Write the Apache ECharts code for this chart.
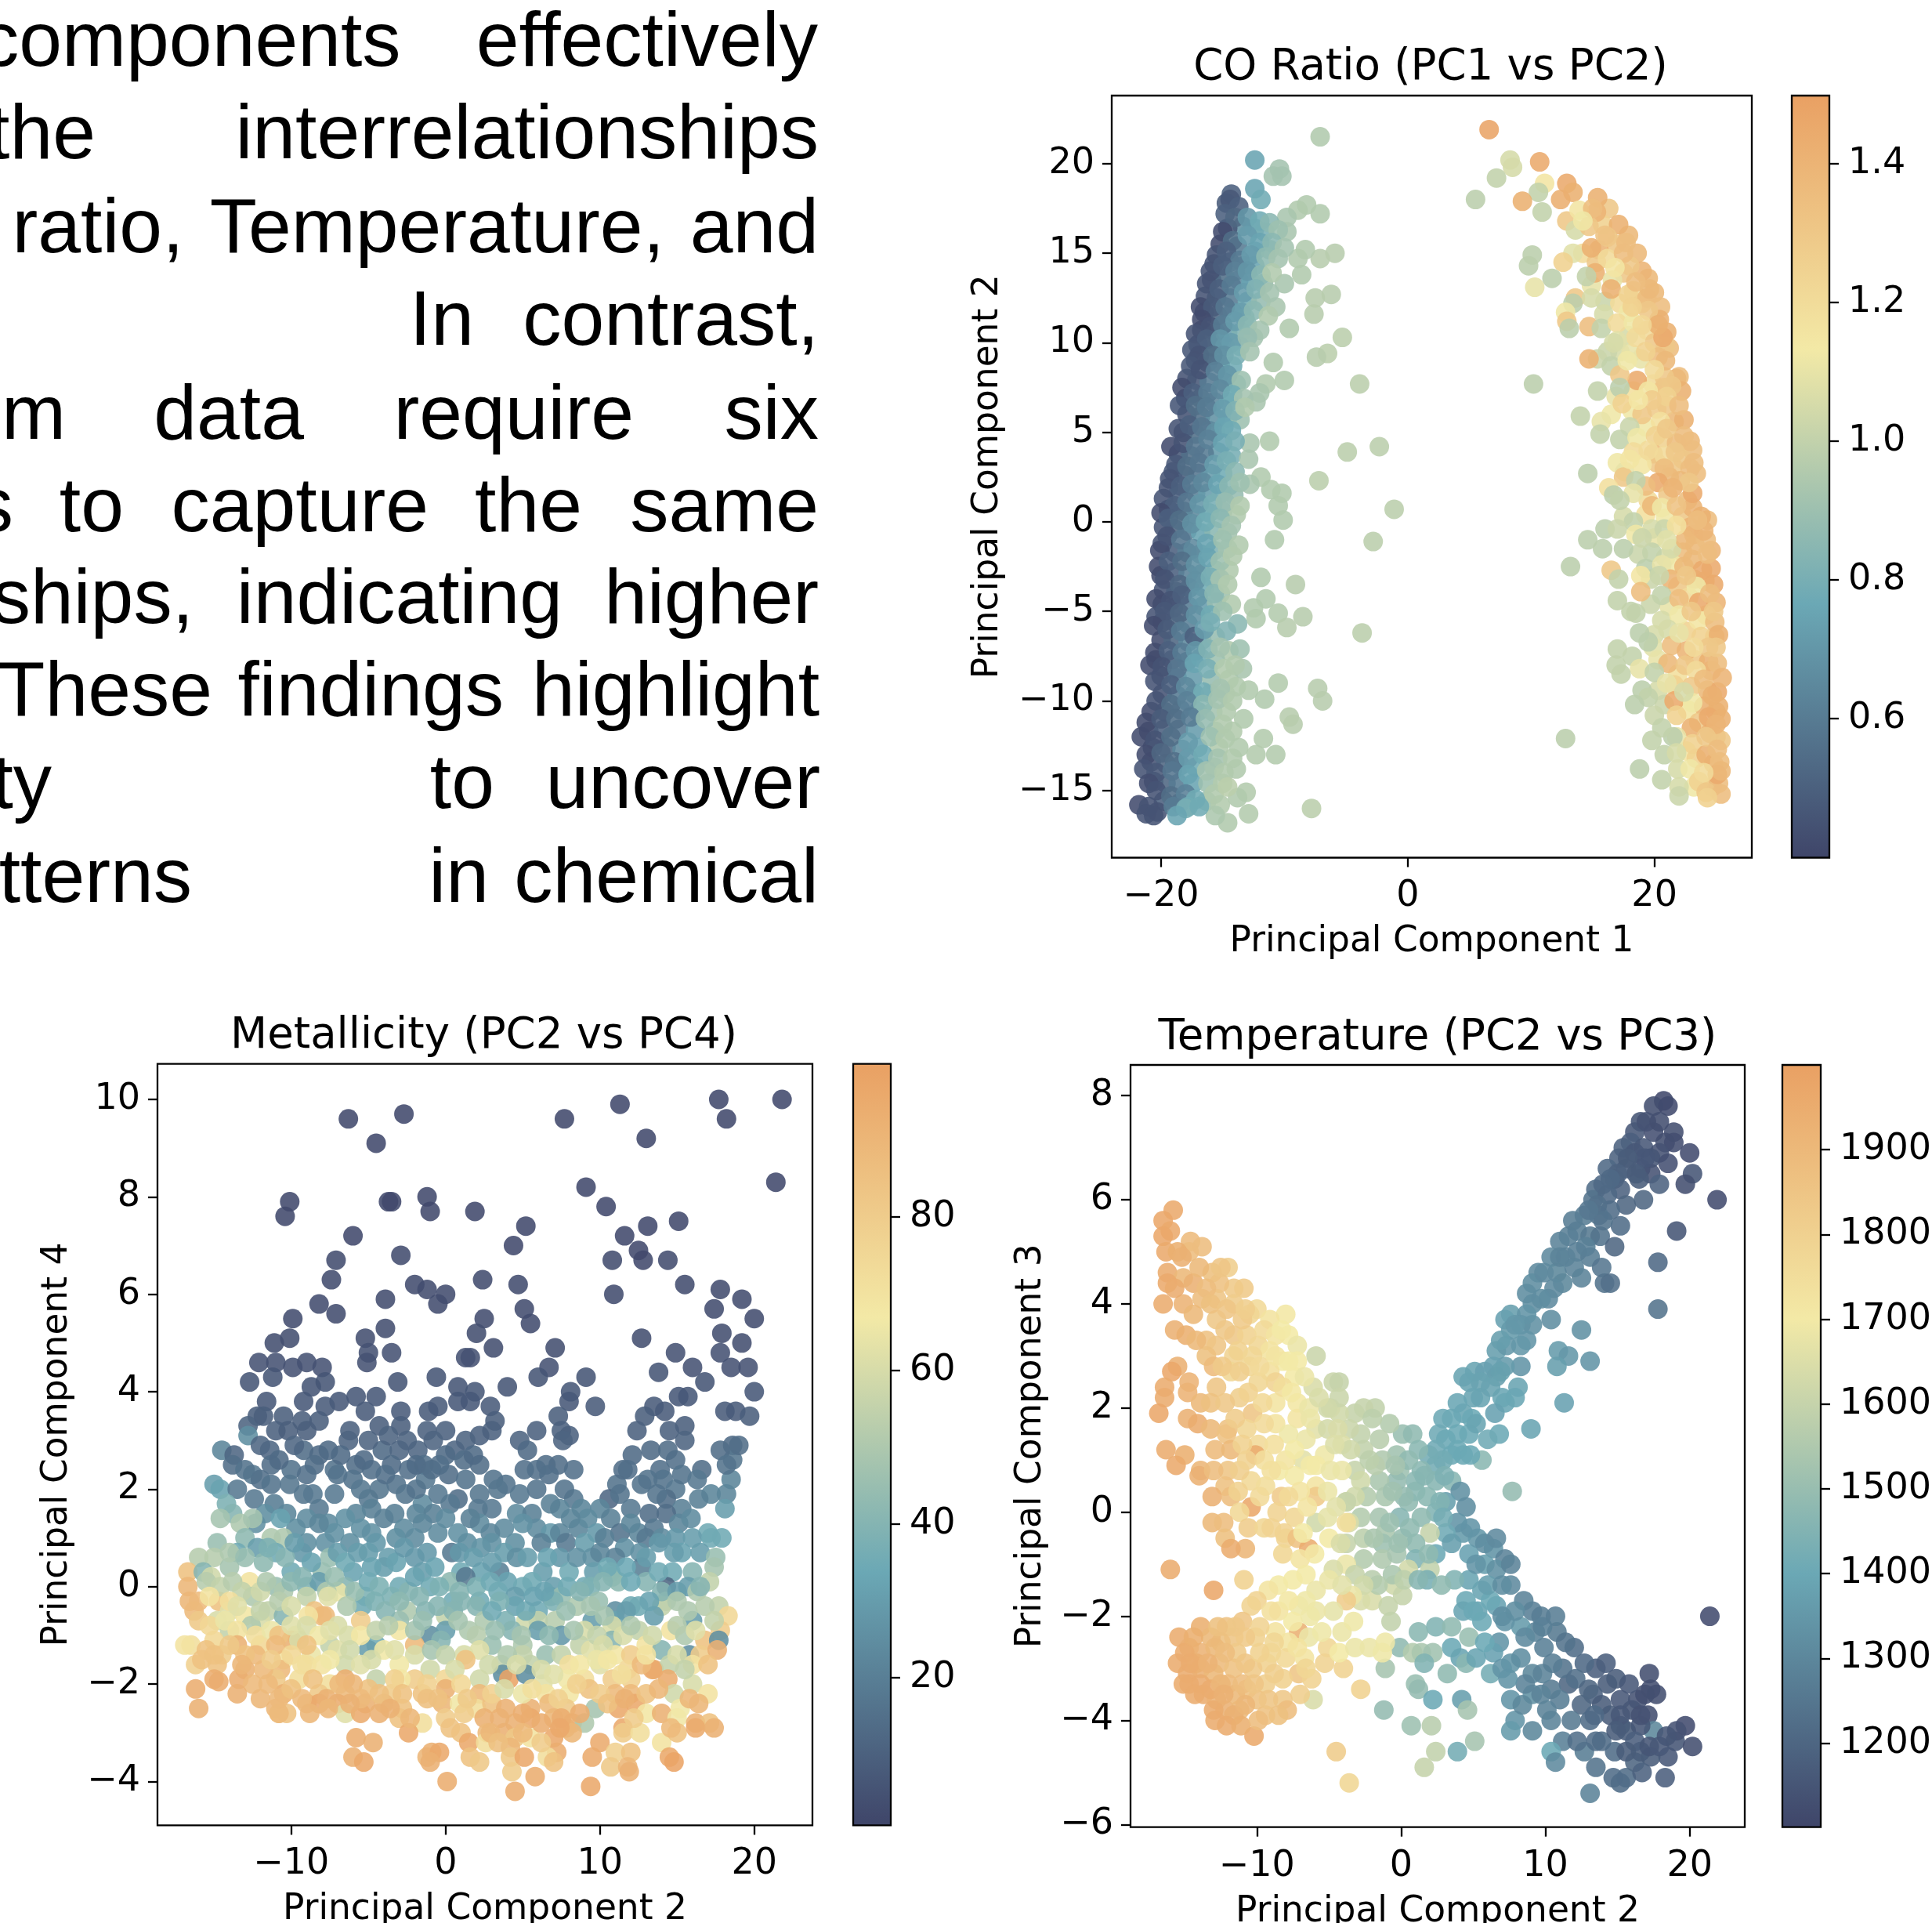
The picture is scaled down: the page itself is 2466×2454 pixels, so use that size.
<!DOCTYPE html>
<html><head><meta charset="utf-8">
<style>html,body{margin:0;padding:0;background:#fff}#c{width:2466px;height:2454px}</style>
<script src="https://cdn.jsdelivr.net/npm/echarts@6/dist/echarts.min.js"></script>
</head><body><div id="c"></div>
<script>
const paletteColors=['#3f4569','#6ba8b5','#f3e9a6','#e9a063'];
const titles=['CO Ratio (PC1 vs PC2)','Metallicity (PC2 vs PC4)','Temperature (PC2 vs PC3)'];
const xNames=['Principal Component 1','Principal Component 2','Principal Component 2'];
const yNames=['Principal Component 2','Principal Component 4','Principal Component 3'];
const xTicks=[[-20,0,20],[-10,0,10,20],[-10,0,10,20]];
const yTicks=[[-15,-10,-5,0,5,10,15,20],[-4,-2,0,2,4,6,8,10],[-6,-4,-2,0,2,4,6,8]];
const barTicks=[[0.6,0.8,1.0,1.2,1.4],[20,40,60,80],[1200,1300,1400,1500,1600,1700,1800,1900]];
const barDigits=[1,0,0];
const xRanges=[[-24,27.9],[-18.67,23.77],[-18.76,23.82]];
const yRanges=[[-18.75,23.8],[-4.9,10.73],[-6.05,8.59]];
const barRanges=[[0.399,1.498],[0.74,99.9],[1101,2000]];
const paragraphLines=[
[['components',508.6],['effectively',1041]],
[['the',119],['interrelationships',1042]],
[['ratio,',231.5],['Temperature,',845],['and',1042]],
[['In',602],['contrast,',1042]],
[['m',81],['data',385],['require',806],['six',1042]],
[['s',14],['to',155],['capture',544],['the',740],['same',1042]],
[['ships,',244],['indicating',715],['higher',1042]],
[['These',268],['findings',640],['highlight',1043]],
[['ty',63],['to',628],['uncover',1044]],
[['tterns',242],['in',621],['chemical',1042]]];
const paragraphTops=[7,125,245.5,363.5,483.5,601,718.5,836.5,954.5,1074.5];

const coLeftOutliers=[[-7.1,21.5,.95],[-12.4,20.2,.75],[-10.4,19.7,.92],[-10.9,19.3,.92],[-10.2,19.3,.92],[-12.4,18.6,.75],[-11.9,18,.78],[-14.3,18.3,.5],[-7.1,17.2,.95],[-8.2,17.7,.95],[-8.9,17.4,.95],[-9.8,17,.93],[-9.8,16.2,.93],[-5.9,15,.97],[-7.1,14.7,.97],[-8.3,15.2,.95],[-8.9,14.7,.95],[-8.6,13.8,.95],[-10,13.3,.93],[-6.2,12.7,.97],[-7.5,12.5,.97],[-7.6,11.6,.97],[-10.7,12,.93],[-9.6,10.8,.95],[-5.3,10.3,.98],[-6.5,9.4,.98],[-7.4,9.2,.97],[-10.9,8.9,.95],[-10,7.9,.95],[-3.9,7.7,.98],[-11.5,7.7,.95],[-12,7.2,.93],[-12.3,6.7,.93],[-12.8,4.4,.93],[-11.2,4.5,.95],[-4.9,3.9,.98],[-2.3,4.2,.98],[-12.9,3.5,.93],[-7.2,2.3,.98],[-11.9,2.5,.95],[-12.8,2.1,.93],[-10.2,1.6,.95],[-11.1,1.8,.95],[-10.5,.9,.95],[-1.1,.7,.98],[-10.1,.1,.95],[-2.8,-1.1,.98],[-10.8,-1,.95],[-11.9,-3.1,.95],[-9.1,-3.5,.97],[-11.5,-4.3,.95],[-12.5,-4.8,.95],[-10.5,-5.1,.96],[-8.5,-5.3,.97],[-12.3,-5.4,.95],[-9.8,-5.9,.97],[-13.8,-5.7,.85],[-3.7,-6.2,.98],[-14.7,-6.1,.82],[-13.6,-7.1,.9],[-13.4,-8.2,.93],[-10.5,-9,.96],[-7.3,-9.3,.97],[-12.9,-9.4,.95],[-6.9,-10,.97],[-11.6,-9.9,.95],[-9.6,-10.9,.97],[-9.3,-11.3,.97],[-11.7,-12.1,.96],[-12.3,-13,.96],[-10.7,-13,.96],[-13.9,-13.8,.95],[-13.1,-15.1,.96],[-13.8,-15.4,.95],[-12.9,-16.3,.96],[-7.8,-16,.98],[-14.6,-16.8,.95],[-15.6,-16.4,.94]];
const coLeftFill=[[-14.7,17.8,.48],[-13.4,16.5,.68],[-12.4,16.4,.75],[-11.6,16.2,.8],[-14.6,16.4,.47],[-15.2,15.5,.42],[-13.8,15.4,.6],[-12.4,15.1,.75],[-11.2,15.2,.88],[-15.7,14.4,.45],[-14.4,14.5,.58],[-13.3,14.3,.68],[-12.4,14.3,.75],[-15.9,13.5,.43],[-14.8,13.6,.55],[-13.7,13.5,.65],[-12.7,13.4,.75],[-11.7,13.3,.88],[-16.4,12.6,.45],[-15.5,12.5,.47],[-14.4,12.5,.6],[-13,12.3,.78],[-11.9,12.3,.88],[-16.5,11.7,.43],[-15.4,11.5,.52],[-14.2,11.7,.7],[-13.2,11.4,.82],[-16.7,10.7,.42],[-15.6,10.6,.55],[-14.6,10.6,.72],[-13.5,10.6,.82],[-12.5,10.3,.92],[-17,9.9,.47],[-15.9,9.8,.55],[-14.8,9.8,.7],[-13.6,9.8,.82],[-17.2,9,.45],[-16.2,8.9,.52],[-15.2,8.8,.68],[-14.2,8.7,.78],[-17.9,8,.45],[-17.1,7.9,.47],[-16.1,7.8,.6],[-14.9,7.8,.68],[-13.9,7.7,.82],[-18,6.9,.47],[-16.8,6.9,.55],[-15.7,6.7,.65],[-14.5,6.7,.78],[-17.9,6,.45],[-16.8,5.9,.55],[-15.6,5.8,.68],[-14.6,5.8,.75],[-13.6,5.7,.9],[-18.2,5,.42],[-17.2,4.9,.55],[-16.1,5.1,.65],[-15.4,3.9,.72],[-18.6,3.8,.47],[-17.6,3.7,.55],[-16.5,3.8,.6],[-14.3,3.7,.8],[-19,2.8,.47],[-18.1,2.6,.5],[-17,2.7,.58],[-16,2.7,.72],[-15,2.7,.78],[-19.4,1.9,.45],[-18.6,1.6,.5],[-17.2,1.6,.62],[-16.2,1.6,.72],[-15.1,1.6,.8],[-14.1,1.5,.88],[-19.4,.7,.47],[-18.2,.6,.55],[-17.2,.4,.65],[-16.1,.5,.78],[-15,.6,.88],[-13.9,.4,.95],[-19.8,-.3,.45],[-18.9,-.4,.52],[-17.9,-.5,.6],[-16.8,-.6,.75],[-15.7,-.5,.85],[-14.6,-.6,.92],[-19.9,-1.2,.45],[-18.9,-1.7,.5],[-17.9,-1.7,.62],[-16.8,-1.8,.72],[-15.7,-1.6,.82],[-14.6,-1.5,.92],[-20,-3,.42],[-18.9,-2.8,.5],[-17.8,-2.9,.62],[-16.7,-2.9,.72],[-15.6,-2.7,.85],[-14.5,-2.7,.95],[-19.8,-3.8,.45],[-18.8,-3.9,.5],[-17.7,-3.7,.62],[-16.5,-3.7,.78],[-15.2,-4,.9],[-19.9,-4.6,.45],[-19,-4.8,.48],[-17.8,-4.7,.6],[-16.6,-4.7,.72],[-15.5,-4.5,.88],[-14.3,-4.6,.95],[-19.9,-5.6,.45],[-18.9,-5.6,.52],[-17.8,-5.7,.62],[-20,-6.6,.42],[-19,-6.6,.52],[-17.8,-6.7,.65],[-16.7,-6.6,.78],[-15.6,-6.4,.88],[-14.5,-7.2,.95],[-20.4,-7.7,.42],[-19.1,-7.7,.5],[-17.9,-7.8,.62],[-16.8,-7.6,.78],[-15.6,-7.7,.9],[-20,-8.6,.45],[-18.7,-8.7,.6],[-17.4,-8.7,.72],[-15.9,-8.8,.88],[-14.5,-8.8,.95],[-13.9,-9.2,.95],[-19.9,-9.6,.45],[-18.7,-9.7,.6],[-17.3,-9.6,.72],[-16,-9.6,.88],[-14.8,-9.6,.95],[-20.8,-10.6,.42],[-19.7,-10.6,.5],[-18.4,-10.5,.6],[-17,-10.6,.75],[-15.8,-10.6,.92],[-14.7,-10.6,.95],[-21,-11.7,.42],[-19.8,-11.6,.5],[-18.6,-11.6,.58],[-17.2,-11.6,.72],[-15.6,-11.7,.92],[-14.2,-11.7,.96],[-20.7,-12.6,.45],[-19.6,-12.6,.52],[-18.3,-12.7,.65],[-17,-12.6,.75],[-15.3,-12.6,.95],[-13.7,-12.6,.95],[-20.8,-13.4,.45],[-19.6,-13.5,.52],[-18.4,-13.6,.65],[-17.2,-13.7,.78],[-15.7,-13.7,.95],[-20.6,-14.5,.45],[-19.6,-14.6,.52],[-18.6,-14.6,.6],[-17.4,-14.6,.75],[-16.2,-14.6,.9],[-15,-14.6,.96],[-19.8,-15.6,.5],[-18.5,-15.7,.6],[-16.3,-15.6,.9],[-15.2,-15.8,.96]];
const coLeftBand=[[-14.4,18,.47],[-13.7,17.6,.5],[-14.8,17.2,.5],[-14,17,.52],[-13,17,.7],[-12,16.8,.78],[-11.2,16.7,.85],[-10.5,16.3,.9],[-15,16.2,.42],[-14.2,15.7,.55],[-13,16,.72],[-12,15.6,.75],[-11,15.6,.85],[-10,15.3,.92],[-15.5,14.9,.45],[-14.7,15.1,.5],[-13.6,14.6,.6],[-12.7,14.9,.72],[-11.5,14.8,.86],[-10.5,14.7,.92],[-16,14,.45],[-15,14.3,.5],[-14,14,.62],[-13,14,.7],[-11.9,13.8,.85],[-11,13.9,.95],[-16.3,13.3,.45],[-15.3,13,.5],[-14.3,13.2,.6],[-13.3,12.8,.72],[-12.3,13,.82],[-11.2,12.8,.92],[-16.8,12,.42],[-15.8,12,.48],[-14.8,12,.58],[-13.5,11.7,.72],[-12.5,11.8,.85],[-11.3,11.5,.95],[-16.7,11.3,.42],[-16,10.9,.45],[-15,11,.6],[-14,11.2,.72],[-13,11,.85],[-12,10.7,.92],[-17.2,10.5,.45],[-16.3,10.2,.5],[-15.2,10.2,.7],[-14.3,10,.72],[-13,10.3,.88],[-17.5,9.6,.47],[-16.9,9.3,.45],[-15.8,9.3,.55],[-14.9,9.3,.68],[-13.9,9.3,.8],[-12.8,9.5,.92],[-17.6,8.7,.47],[-16.8,8.5,.45],[-15.6,8.4,.62],[-14.6,8.2,.7],[-13.5,7.9,.9],[-18.3,7.5,.42],[-17.4,7.2,.5],[-16.2,7.2,.6],[-15.2,7.4,.65],[-14.2,7.1,.78],[-13.3,6.9,.92],[-18.5,6.5,.46],[-17.2,6.5,.55],[-16.3,6.4,.6],[-15,6.3,.72],[-14,6.2,.82],[-13.2,6.4,.95],[-18.6,5.2,.45],[-17.7,5.4,.5],[-16.7,5.3,.58],[-15.6,5,.68],[-14.9,5.3,.75],[-14.3,5.1,.78],[-19.2,4.2,.42],[-18.2,4.4,.45],[-17.2,4.2,.58],[-16.2,4.6,.62],[-15,4.4,.75],[-14,4.5,.8],[-18.8,3.2,.47],[-17.9,3.1,.55],[-16.9,3.3,.58],[-15.7,3.2,.72],[-14.7,3.4,.8],[-14,2.8,.85],[-19.3,2.4,.45],[-18.4,2,.5],[-17.5,2.1,.6],[-16.6,2.2,.65],[-15.4,2.1,.75],[-14.5,2,.85],[-13.6,2.2,.9],[-19.8,1.3,.45],[-18.9,.9,.5],[-17.9,1.1,.58],[-16.9,1,.7],[-15.8,1,.8],[-14.8,1.1,.88],[-13.6,.9,.95],[-20,.5,.42],[-19.4,.2,.5],[-18.5,.1,.55],[-17.5,-.1,.68],[-16.4,0,.78],[-15.2,.2,.85],[-14.3,-.2,.92],[-20.1,-1.6,.42],[-19.5,-.8,.45],[-18.4,-1,.58],[-17.4,-1.5,.65],[-16.3,-1.2,.75],[-15,-1,.9],[-13.7,-1.3,.95],[-20.2,-2.5,.42],[-19.4,-2.2,.5],[-18.3,-2.2,.55],[-17.2,-2.4,.68],[-16.2,-2,.75],[-15.2,-2.2,.9],[-14.2,-1.9,.95],[-19.7,-3.2,.45],[-18.5,-3.5,.52],[-17.2,-3.3,.68],[-16,-3.1,.8],[-15.2,-3.2,.92],[-20.4,-4.3,.42],[-19.2,-4.4,.45],[-18.3,-4.1,.5],[-17,-4.2,.7],[-15.7,-4,.85],[-14.6,-3.5,.95],[-20.4,-5.3,.45],[-19.7,-5,.47],[-18.5,-5.1,.52],[-17.2,-5.2,.68],[-16,-5.2,.78],[-15,-5,.9],[-20.6,-5.8,.42],[-19.5,-6,.48],[-18.4,-6.1,.6],[-17.3,-6.4,.5],[-16.5,-6,.72],[-16,-5.6,.8],[-20.5,-7.3,.42],[-19.4,-7.2,.5],[-18.3,-7.3,.6],[-17.2,-7.2,.7],[-16.2,-7.1,.82],[-15.2,-7,.92],[-20.9,-8,.42],[-19.9,-8.1,.45],[-18.7,-8.2,.58],[-17.3,-7.9,.75],[-16.2,-8.2,.8],[-14.9,-8.2,.95],[-14,-8,.95],[-20.5,-8.9,.45],[-19.2,-9.1,.5],[-18,-9.2,.65],[-16.6,-9.5,.78],[-15.2,-9.3,.92],[-20.4,-10,.45],[-19.2,-10.2,.55],[-17.9,-10,.62],[-16.6,-10.2,.85],[-15.4,-9.9,.92],[-14.2,-10,.95],[-21.2,-11.2,.42],[-20,-11,.48],[-18.8,-11,.55],[-17.6,-10.9,.6],[-16.4,-11,.88],[-15,-11.3,.95],[-13.3,-11,.95],[-21.6,-12,.42],[-20.5,-12.2,.45],[-19.2,-12,.55],[-17.8,-12.3,.72],[-16,-12,.9],[-14.8,-12.1,.95],[-21.2,-13,.42],[-20,-12.9,.52],[-18.9,-13.4,.55],[-17.8,-13.2,.72],[-16.6,-13,.78],[-15.4,-13.2,.92],[-14.2,-13.2,.95],[-21.4,-13.8,.45],[-20.4,-14,.47],[-19.1,-13.9,.58],[-17.8,-14.1,.75],[-16.3,-13.9,.92],[-14.9,-14,.95],[-21,-14.6,.43],[-20.4,-15,.45],[-19.2,-15.3,.55],[-18,-15.2,.62],[-17.2,-15.5,.78],[-15.7,-15.2,.95],[-14.6,-14.8,.98],[-21.8,-15.8,.42],[-21,-15.9,.45],[-20.3,-16.2,.45],[-21.2,-16.3,.45],[-20.6,-16.4,.45],[-19,-15.9,.6],[-17.8,-15.9,.78],[-18,-16,.8],[-18.7,-16.4,.75],[-16.9,-15.9,.78]];
const coRightFill=[[16.3,17.5,1.3],[15.8,16.6,1.25],[17.9,16,1.38],[16.9,15.5,1.3],[15.5,15.2,1.4],[18.6,15,1.38],[14.2,15,1.2],[15.3,14.5,1.3],[17.5,13.9,1.3],[19.5,13.6,1.38],[14.9,13.2,1.1],[18.3,12.9,1.2],[20,12.8,1.38],[16,12.3,1.02],[17.2,12.2,1.2],[19,12.2,1.3],[20.5,12,1.35],[15.9,11.6,1.05],[17.9,11.7,1.12],[19.4,10.7,1.2],[21,10.6,1.42],[17.9,10.4,1.05],[20,10,1.3],[21.2,9.7,1.35],[17.2,9.5,1.05],[18.1,9.4,1.1],[16.2,9.5,1.02],[20.9,9.8,1.3],[16.9,7,1.1],[18.3,7.3,1.18],[19.9,7.7,1.2],[20.8,7.5,1.32],[22,8.1,1.35],[18.2,6.2,1.12],[20.2,6.3,1.28],[21.6,5.6,1.38],[19.3,5.3,1.12],[20.7,4.7,1.25],[22.9,4.5,1.38],[19.9,3.8,1.35],[17,3.3,1.12],[20.2,3.3,1.3],[21.5,3.1,1.3],[23.4,2.7,1.35],[21.2,2.5,1.38],[19.5,1.2,1.2],[22.7,1.2,1.35],[20.9,.2,1.12],[19.3,.4,1.18],[22.3,.3,1.3],[23.1,.8,1.4],[24.3,.1,1.35],[17.5,.3,1.05],[20,-.9,1.1],[23.2,-.7,1.38],[24.6,-1.6,1.4],[22.3,-1.7,1.35],[18.7,-1.8,1.02],[20.9,-2,1.05],[23.1,-2.1,1.38],[24.6,-2.6,1.45],[21.5,-2.4,1.12],[19.7,-3.2,1.02],[21.9,-3.6,1.3],[23.2,-3.2,1.35],[25,-4.5,1.4],[21.2,-4.7,1.1],[19.7,-4.6,1.02],[22.8,-4.2,1.2],[24.1,-3.3,1.4],[24.2,-5.2,1.2],[20,-6.3,1.05],[22.6,-6.1,1.25],[24.9,-6.4,1.3],[23.3,-7.7,1.3],[18.2,-7.5,1],[24.4,-7.8,1.42],[19.9,-7,1.08],[21.9,-8.5,1.18],[24.6,-8.3,1.4],[20.3,-9.4,1.05],[24.3,-9.4,1.38],[22.7,-10.5,1.15],[24,-10.3,1.42],[25,-10.6,1.4],[20.8,-10.2,1.02],[23.6,-11.2,1.3],[24.5,-11.8,1.4],[22.6,-12.8,1.15],[25,-12,1.35],[20.8,-13,1],[23.4,-13.2,1.25],[24.8,-13.5,1.4],[21.9,-13.8,1.05],[24.7,-14.8,1.35],[23.2,-14.8,1.12],[25.2,-14.6,1.35]];
const coRightBand=[[6.6,21.9,1.48],[8.3,20.2,1.05],[8.5,19.8,1.05],[10.7,20.1,1.45],[7.2,19.2,1],[11.1,18.9,1.15],[10.6,18.4,1],[5.5,18,.98],[9.3,17.9,1.42],[10.9,17.3,1],[12.9,18.9,1.45],[13.4,18.4,1.42],[12.4,18,1.43],[15.4,18.1,1.42],[15.3,17.3,1.4],[12.9,16.8,1.3],[13.9,17.4,1.15],[13.6,16.3,1.05],[14.7,16.5,1.3],[17.1,16.6,1.42],[10.1,14.9,.98],[9.8,14.3,.98],[13.4,15,1.08],[12.6,14.5,1.25],[11.7,13.6,.98],[10.3,13.1,1.1],[14.9,15.3,1.42],[16.2,15.9,1.3],[17.7,15.6,1.35],[16.2,14.7,1.2],[15.2,13.9,1.42],[19,14,1.4],[18,14.3,1.3],[16.6,13.5,1.1],[14.5,13.7,1],[16.5,13,1.42],[17.9,12.7,1.25],[13.6,12.5,1.3],[14.9,12.5,1.05],[13.4,12.2,.98],[19.4,12.5,1.35],[12.8,11.7,1.12],[12.9,11.2,1.3],[13.1,10.8,.98],[14.7,10.9,1.35],[15.7,10.8,1],[17,11.1,1.2],[18.3,11.1,1.12],[20.4,11.3,1.42],[19.5,11.8,1.3],[20.7,10.3,1.45],[18.5,10.3,1.2],[17,10.1,1.08],[15.4,9.1,1.02],[14.7,9.1,1.42],[18.9,9.1,1.1],[20.3,9.2,1.35],[16.5,8.7,1],[18.6,7.9,1.45],[21.8,8,1.38],[20.8,8.1,1.3],[10.2,7.7,.98],[17.2,8.2,1.3],[15.4,7.3,1],[17.2,7.5,.98],[19.5,7.3,1.15],[22.2,7.3,1.42],[21,6.5,1.3],[14,5.9,1],[16.5,6,1.12],[17.4,6.6,1.25],[19,6,1.3],[22.4,5.7,1.42],[15.7,5.6,1.1],[20.5,5.6,1.18],[15.6,4.9,1],[18,5.3,1.02],[17.2,4.6,1],[18.6,4.7,1.12],[20.1,4.8,1.25],[21.8,4.4,1.35],[23.1,4,1.35],[18.3,3.9,1.2],[20.8,3.7,1.2],[22.3,3.5,1.3],[14.6,2.7,.98],[17.6,2.8,1.1],[19,3.2,1.15],[20.8,3,1.35],[22.9,3,1.35],[17.5,2.5,1.3],[20.3,2.2,1.45],[22.1,2.3,1.38],[16.3,1.9,1.18],[19.3,2,1.35],[18.5,2.3,1],[18.3,1.6,1.1],[16.7,1.5,.98],[21.1,1.5,1.3],[23.1,1.6,1.45],[19.8,.9,1.38],[20.6,.8,1.12],[21.8,.9,1.32],[23.8,.3,1.42],[22.9,-.3,1.4],[18.3,0,1],[19.8,-.4,1.05],[16,-.4,.98],[17,-.4,1.02],[18.5,-.7,1.12],[20.8,-.4,1.02],[14.6,-1,.98],[15.8,-1.5,.98],[17.5,-1.5,.98],[21.4,-1.5,1.05],[23.3,-1.3,1.38],[24.2,-1,1.35],[19.8,-1.7,1],[13.2,-2.5,.98],[16.5,-2.7,1.3],[19.3,-2.6,.98],[17.1,-3.2,1],[20.6,-2.4,1.1],[22.4,-2.5,1.38],[23.9,-2.7,1.45],[18.9,-3,1.15],[21.3,-3.2,1.4],[24.8,-3.5,1.45],[23.4,-3.6,1.12],[18.9,-3.9,1.35],[20.6,-4.1,1],[17,-4.4,1],[22,-4.3,1.35],[23.6,-4.5,1.45],[18.1,-5,1],[18.5,-5.1,1],[20.6,-5.5,1.05],[22,-5.2,1.12],[23.6,-5.5,1.15],[24.9,-5.6,1.35],[18.8,-6.2,.98],[19.5,-6.7,.98],[21.1,-6,1.05],[23.8,-6.4,1.25],[25.2,-6.3,1.42],[17,-7.1,1],[21.4,-6.9,1.35],[22.6,-7.2,1.4],[24.4,-7,1.3],[16.9,-8,1],[18.8,-8.2,1.1],[20.3,-7.7,1.1],[21.1,-7.9,1.38],[22.5,-8,1.3],[25.1,-7.9,1.35],[17.3,-8.5,1],[20,-8.4,1],[23.4,-8.3,1.2],[21.6,-9.1,1.25],[19,-9.4,.98],[23,-9.2,1.3],[25.1,-9.5,1.45],[19.5,-9.8,1],[21.6,-10,1.45],[23.1,-10.1,1.12],[18.4,-10.2,.98],[25.2,-10.3,1.42],[20,-10.8,1.02],[21.8,-10.8,1.25],[24.4,-10.9,1.45],[25.4,-11,1.42],[23,-11.5,1.42],[21.8,-12,1.1],[19.8,-12.2,1],[21.5,-12,.98],[12.8,-12.1,.98],[23.1,-12.4,1.25],[25.4,-12.2,1.3],[24.2,-13,1.42],[21.8,-12.9,1.05],[25.3,-13.4,1.35],[18.8,-13.8,.98],[22.9,-13.8,1.12],[25.1,-14.1,1.45],[20.6,-14.4,1],[23.6,-14.5,1.25],[22,-14.8,1.05],[22,-15.3,1.02],[24.2,-15.1,1.3],[25.4,-15.2,1.35],[24.3,-15.4,1.25],[19.6,13,1.38],[18.5,13.4,1.35],[20.3,11,1.42],[20.9,9,1.38],[21.4,7.6,1.3],[21,7,1.25],[20,8.5,1.2],[22,6.5,1.35],[22.4,4.8,1.35],[21.7,3.9,1.3],[22.8,2.2,1.3],[23.2,3.3,1.35],[21.5,1.9,1.4],[24,-.5,1.4],[24.3,-1.8,1.35],[23.5,.1,1.35],[22.5,-1,1.38],[21.8,-.2,1.18],[22.6,-3,1.3],[24.5,-4,1.35],[23,-5,1.3],[24.8,-5,1.3],[25,-7,1.3],[24,-8.8,1.35],[25.5,-8.7,1.4],[24.7,-9.7,1.42],[25,-11.3,1.4],[24.2,-12,1.3],[25.1,-12.7,1.35],[25.4,-13.9,1.38],[24,-14,1.2],[21,-9,1.1],[22.4,-9.5,1.05],[20.6,-11.5,1],[23.2,-7,1.2],[22,-6.2,1.1],[20.4,-3,1.02],[21,-1,1.08],[19,-.9,1.02],[18,3.5,1.15],[17.2,1.2,1],[19.5,4,1.2],[21,5.2,1.3],[19.8,6.8,1.28],[18.7,6.8,1.15],[17.8,9,1.12],[19.3,9.5,1.25],[16.7,10,1.05],[18.2,12,1.25],[19,11,1.22],[16,16,1.32],[17.5,15,1.35],[16.8,14.2,1.15],[15,17.5,1.35],[14.2,16.8,1.12]];

const metUpper=[[-6.3,9.6,2],[-2.7,9.7,2],[-4.5,9.1,2],[7.7,9.6,2],[11.3,9.9,2],[17.7,10,2],[18.2,9.6,2],[21.8,10,2],[13,9.2,2],[21.4,8.3,2],[9.1,8.2,2],[10.4,7.8,2],[-10.1,7.9,2],[-10.4,7.6,2],[-3.7,7.9,2],[-3.5,7.9,2],[-1.2,8,2],[-1,7.7,2],[1.9,7.7,2],[5.2,7.4,2],[13.1,7.4,2],[15.1,7.5,2],[11.6,7.2,2],[-6,7.2,2],[4.4,7,2],[12.5,6.9,2],[12.8,6.7,2],[-7.1,6.7,3],[-2.9,6.8,3],[10.8,6.7,3],[14.4,6.7,3],[-7.4,6.3,3],[2.4,6.3,3],[4.7,6.2,3],[15.5,6.2,3],[17.8,6.1,3],[-2,6.2,3],[-1.2,6.1,3],[0,6,3],[-3.9,5.9,3],[-8.2,5.8,3],[-.5,5.8,3],[10.9,6,3],[19.2,5.9,3],[5.1,5.7,3],[-7.1,5.6,3],[-9.9,5.5,3],[2.5,5.5,3],[5.5,5.4,3],[17.4,5.7,3],[20,5.5,3],[-3.9,5.3,4],[-5.2,5.1,4],[2,5.2,4],[17.9,5.2,4],[-10.1,5.1,4],[-11.1,5,4],[12.7,5.1,4],[7.1,4.9,4],[3.1,4.9,4],[19.2,5,4],[-5,4.8,5],[-3.5,4.8,5],[14.9,4.8,5],[17.8,4.8,5],[1.3,4.7,5],[1.6,4.7,5],[-5.1,4.6,5],[-12.1,4.6,5],[-11,4.6,5],[-9,4.6,5],[-8,4.5,5],[6.7,4.5,5],[16,4.5,5],[18.5,4.5,5],[19.6,4.5,5],[-9.9,4.5,5],[13.8,4.4,6],[6,4.3,6],[9.1,4.3,6],[16.8,4.2,6],[-11.2,4.3,6],[-12.7,4.2,6],[-3.1,4.2,6],[-.6,4.3,6],[-7.8,4.2,6],[-8.7,4.1,6],[.8,4.1,6],[4,4.1,6],[20,4,7],[1.9,4,7],[8.1,4,7],[15.7,3.9,7],[15.1,3.9,7],[-11.6,3.8,7],[-5.8,3.9,7],[-6.9,3.8,7],[-4.5,3.9,7],[-9.2,3.8,7],[8,3.8,7],[.8,3.8,7],[1.6,3.8,7],[-7.8,3.7,8],[9.7,3.7,8],[2.9,3.7,8],[-2.9,3.6,8],[-1.1,3.6,8],[-.5,3.7,8],[13.5,3.7,8],[18.1,3.6,8],[18.8,3.6,8],[14.2,3.6,8],[-5.2,3.6,8],[-10.5,3.5,9],[-12.2,3.5,9],[7.3,3.5,9],[19.7,3.5,9],[12.9,3.5,9],[-8.2,3.4,9],[-2.9,3.3,9],[3.2,3.4,9],[15.5,3.3,9],[-9.3,3.4,9],[-4.3,3.3,9],[-12.8,3.3,11],[-1.2,3.2,10],[3,3.2,10],[-11,3.2,10],[5.9,3.2,10],[7.5,3.2,10],[12.4,3.2,10],[14.5,3.2,10],[15.5,3,11],[-6.2,3.2,10],[0,3.2,10],[2.2,3.1,10],[8,3.1,10],[4.8,3,11],[-12.8,3.1,25],[-6.3,3,11],[7.6,3,11],[18.6,2.9,13],[-14.5,2.8,22],[-13.7,2.7,12],[-9.2,2.8,14],[-11.4,2.8,12],[-7.6,2.8,13],[-4.1,2.8,13],[-3,2.8,12],[-1.8,2.8,12],[5.3,2.8,13],[13.3,2.8,13],[.6,2.8,12],[0,2.7,13],[12.1,2.7,13],[-8.2,2.7,13],[-13.8,2.5,14],[-5.8,2.5,14],[1.2,2.6,14],[2.2,2.5,14],[6.5,2.5,14],[7.3,2.5,14],[14.9,2.6,15],[18.6,2.6,17],[16.6,2.4,14],[-11.3,2.5,14],[-4.8,2.4,15],[-1.4,2.5,15],[5.1,2.4,15],[8.3,2.4,15],[11.8,2.4,15],[13.9,2.4,15],[-7.2,2.4,16],[-10,2.4,16],[-.4,2.5,15],[-2.4,2.4,15],[5.9,2.4,15],[-12.5,2.3,18],[6.7,2.3,15],[3.1,2.2,16],[18.5,2.2,22],[3.9,2.1,16],[14.1,2.2,16],[-6,2.2,16],[-3.2,2.1,16],[-10.1,2.1,17],[-1.3,2.2,18],[-15,2.1,30],[-14.6,2,32],[-13.5,2,18],[13.1,2.2,16],[11.1,2.1,16],[5.9,2,16],[14.9,2,18],[-7.2,1.9,18],[2.2,1.9,17],[4.8,1.9,18],[17.2,1.9,22],[10.6,1.8,12],[11.3,1.9,16],[18.2,1.9,22],[8.3,1.8,18],[16.4,1.8,20],[-9.2,1.9,17],[-5,1.8,18],[.8,1.8,14],[14.3,1.8,14],[-11.1,1.7,19],[-12.4,1.8,18],[-14.2,1.7,38],[-1.5,1.7,24],[18.1,1.6,30],[15.3,1.6,20],[-8.2,1.6,18],[2.1,1.6,18],[4.6,1.5,24],[7.4,1.6,22],[12,1.6,18],[-4.8,1.6,20],[-5.8,1.5,22],[13.2,1.5,14],[14.3,1.5,14]];
const metUpperFill=[[-11.8,3.5,9],[-10.2,3.2,9],[-9.8,2.9,12],[-12,2.9,12],[-10.8,2.6,13],[-9,3.2,9],[-8.5,2.5,14],[-6.8,2.7,13],[-5.3,2.6,13],[-5,3,11],[-3.7,3.1,11],[-3.5,2.5,13],[-2.5,3,11],[-1.9,2.5,13],[-.8,3,11],[-.9,2.4,14],[1.3,3,11],[1.8,2.7,13],[.2,2.3,14],[-12,2.2,15],[-11.3,2.1,16],[-9,2.3,15],[-8.6,1.9,18],[-7,2.3,16],[-5.5,2,18],[-4.3,2,17],[-3.9,2.3,15],[-2.6,1.9,17],[-1.9,2,16],[-.5,1.9,18],[.3,1.7,18],[1.3,2.2,16],[3,1.6,18],[3.4,2,17],[5.6,1.5,20],[6.8,1.7,20],[7.7,2,16],[8.8,1.6,22],[10,1.6,22],[11.5,2.4,14],[12.7,2.1,16],[13.7,1.9,16],[14.4,2.8,14],[15.3,2.3,16],[16.3,2.2,18],[17.8,2.8,14],[18.2,2.5,16],[19,2.9,14],[-13,2.4,16],[-12.3,1.3,26],[-13.8,1.5,40],[-11.7,1.5,25],[-10.3,1.5,22],[-9.7,1.2,25],[-9,1.4,24],[-7.6,1.3,24],[-7.2,1.1,26],[-5.5,1.2,26],[-4.8,1.1,26],[-3.3,1.5,20],[-1.9,1.5,22],[-.8,1.5,20],[.8,1.1,26],[2.2,1.3,24],[3.8,1.2,24],[5.9,1.2,24],[6.8,1.1,28],[8.6,1.2,22],[9.2,1.4,24],[10.7,1.4,20],[12.5,1.1,22],[13.5,1.2,18],[15.1,1.3,22],[15.9,1.4,24]];
const metMiddle=[[-14.6,1.4,48],[-13.3,1.3,50],[-12.5,1.4,48],[-10.7,1.4,32],[-8.2,1.3,22],[-6.5,1.4,26],[-4,1.4,20],[-2.7,1.2,24],[-1.5,1.3,22],[0,1.4,24],[1.6,1.4,20],[2.9,1.1,22],[5,1.3,26],[7.4,1.1,22],[8.1,1.4,22],[9.8,1.1,28],[11.3,1.1,16],[12,1.3,22],[13,1,18],[14,1,24],[17,1.1,35],[-14.8,.9,45],[-13,1,42],[-11.3,1,50],[-10.5,1,50],[-9,.9,25],[-7.8,.9,26],[-6.2,.9,25],[-4.5,.9,28],[-3.2,1,25],[-2,1,24],[-.5,1.1,24],[1.4,.9,25],[3,.9,26],[4.5,.9,25],[6.2,.9,20],[7.8,.9,18],[9,.9,30],[10.3,1,20],[11.6,.8,26],[13.8,.9,28],[14.9,1,28],[16,1,30],[17.2,1,35],[17.9,1,35],[-16,.6,52],[-15,.6,52],[-13.5,.7,35],[-12.2,.8,30],[-11,.7,35],[-9.3,.7,28],[-7.5,.6,45],[-5,.7,30],[-3.7,.6,30],[-2,.6,28],[.4,.7,18],[2.3,.8,27],[3.8,.7,30],[4.6,.6,25],[7.4,.6,28],[9.5,.6,26],[11,.6,20],[12.6,.7,26],[15.3,.7,32],[16.5,.7,30],[17.5,.6,45],[-16.7,.3,85],[-15.7,.3,40],[-14,.4,48],[-10,.3,35],[-8,.3,45],[-6,.3,32],[-4,.4,30],[-1.5,.3,30],[1,.3,35],[2.3,.3,32],[3.5,.3,20],[6.3,.3,30],[8,.3,35],[9.6,.3,30],[10.7,.3,42],[12.7,.4,20],[14.7,.3,35],[16,.3,40],[17.4,.4,48],[-16.7,0,90],[-15.2,.2,58],[-12.7,.1,70],[-11,0,45],[-9,0,38],[-8.2,.1,30],[-6.5,0,40],[-3,0,35],[-1,0,35],[.3,.1,42],[1.3,.2,18],[4,.1,32],[5,0,35],[7,0,30],[9,0,35],[9.4,0,38],[10.8,.2,42],[11.2,.1,42],[13,.1,40],[14.3,0,12],[15.7,0,30],[17.1,.1,55],[-16.6,-.3,90],[-14.7,-.3,85],[-12.5,-.2,50],[-9,-.2,55],[-7,-.1,65],[-5.2,-.2,38],[-3.5,-.2,38],[-1.7,-.2,40],[.5,-.3,35],[2.2,-.3,35],[3.4,-.1,35],[4.5,-.2,30],[6.8,-.2,30],[7.5,-.2,45],[9.9,-.3,45],[12,-.4,35],[14.3,-.3,48],[16.3,-.1,50],[-16.3,-.5,88],[-14,-.5,62],[-11.5,-.5,55],[-8.5,-.5,85],[-7.8,-.6,88],[-5.4,-.4,35],[-4.6,-.3,38],[-2.5,-.5,50],[1,-.3,40],[2,-.4,40],[4.5,-.4,32],[6,-.5,35],[7,-.3,38],[8.5,-.4,50],[11,-.5,25],[12.5,-.4,35],[14,-.4,55],[17.7,-.4,55],[-16,-.7,82],[-14.8,-.7,60],[-13,-.6,68],[-12,-.7,60],[-10.5,-.6,40],[-8,-.6,88],[-5.5,-.7,80],[-3,-.7,45],[0,-.6,55],[2.5,-.7,50],[3.9,-.7,38],[5.2,-.7,58],[6,-.7,55],[7.1,-.7,52],[9.5,-.7,30],[11,-.7,32],[13.5,-.6,30],[16,-.7,30],[18.3,-.6,75],[-14,-.9,55],[-12.6,-.8,50],[-9.7,-1,65],[-7,-.8,60],[-3,-.9,68],[-1,-1,25],[0,-.9,30],[1.5,-.9,50],[2,-1,52],[4.3,-.9,40],[6,-.9,30],[7.5,-1,28],[9,-.9,60],[10.8,-.8,60],[12.5,-.9,55],[14.6,-.9,70],[15.5,-1,50],[17.8,-.9,80],[-16.5,-1.2,72],[-15,-1.1,75],[-12,-1.2,75],[-10,-1.1,92],[-9.5,-1.1,60],[-7.5,-1.2,55],[-4.5,-1.2,35],[-2,-1.2,88],[-.3,-1.1,40],[3,-1.2,45],[5,-1.2,50],[8.7,-1.2,55],[10.8,-1.1,40],[13,-1.2,70],[16.8,-1.1,85],[17.7,-1.1,25],[-16.9,-1.2,70],[-15.5,-1.3,85],[-14.5,-1.4,80],[-12.3,-1.4,88],[-10.5,-1.5,70],[-8.7,-1.4,65],[-7,-1.3,62],[-5,-1.3,30],[-4,-1.3,66],[-2,-1.4,60],[1.2,-1.4,60],[2.2,-1.3,62],[5,-1.4,55],[6.5,-1.4,45],[7.5,-1.4,55],[9.4,-1.3,62],[11,-1.4,68],[12,-1.4,80],[14,-1.3,40],[15.8,-1.4,25],[16.5,-1.4,80],[17.6,-1.3,92]];
const metMiddleFill=[[-14,.7,50],[-13,.6,45],[-11.8,.5,42],[-11.5,.8,38],[-10.4,.6,40],[-9.8,.9,30],[-8.7,.5,32],[-7,.7,30],[-6.5,.5,35],[-5.7,.7,30],[-4.8,.4,32],[-3.2,.5,32],[-2.7,.8,28],[-1.2,.7,28],[-.7,.4,32],[.9,.7,28],[1.8,.6,30],[3,.5,30],[5.3,.6,30],[6.6,.6,32],[8.5,.6,26],[10,.7,22],[10.5,.4,35],[11.7,.4,34],[13,.6,30],[13.8,.3,35],[14.8,.7,30],[-15.5,.1,52],[-14.6,0,55],[-13.8,.1,52],[-13.2,-.1,55],[-12,-.1,58],[-11.6,.1,50],[-10.5,-.1,50],[-10,.1,42],[-9.3,.2,40],[-7.7,-.1,50],[-7.2,.2,45],[-5.9,-.1,45],[-5,.1,35],[-4.3,0,38],[-2.4,-.1,40],[-2,.2,32],[-.4,0,38],[.9,-.1,40],[2,0,38],[2.9,.1,35],[3.5,-.3,38],[5.6,.1,35],[6.4,-.1,32],[7.9,0,35],[8.7,-.1,40],[10.2,.1,40],[12,.1,34],[14,-.1,40],[15,-.1,30],[16.5,0,40],[-16,-.3,88],[-15.3,-.2,70],[-14,-.3,72],[-13.5,-.4,62],[-12,-.5,55],[-10.8,-.3,52],[-10,-.4,60],[-8.9,-.6,70],[-7.6,-.2,62],[-6.4,-.4,50],[-3.9,-.5,40],[-3,-.3,42],[-1.3,-.5,40],[-.5,-.4,40],[.5,-.5,40],[3,-.5,35],[5.2,-.5,35],[5.7,-.2,32],[7.8,-.5,45],[9.4,-.4,48],[10.3,-.6,48],[11.7,-.5,30],[13.2,-.3,32],[15,-.3,50],[15.7,-.5,50],[16.8,-.4,52],[17.4,-.7,55],[-15.3,-.8,75],[-14.3,-.7,65],[-13.5,-.9,70],[-12.3,-1,72],[-11.3,-.9,65],[-10.8,-1,85],[-10,-.8,62],[-9,-.8,60],[-8.2,-1,66],[-7.5,-.9,62],[-6.3,-1,60],[-5.5,-1,68],[-4.5,-.9,55],[-3.7,-.8,52],[-2,-.9,48],[-1.5,-.7,45],[.8,-.7,48],[3.2,-.9,45],[4.9,-1,48],[6.7,-1,42],[8.3,-.9,48],[9.8,-1,55],[10.2,-1.2,60],[11.5,-1,60],[12,-.8,50],[13.4,-1,58],[15,-.8,52],[16.2,-.9,62]];
const metLower=[[-16.2,-1.6,78],[-14.8,-1.6,85],[-13,-1.7,92],[-10.7,-1.7,88],[-9,-1.6,72],[-6.5,-1.6,58],[-3,-1.6,66],[-1,-1.7,58],[1.3,-1.5,85],[3.6,-1.6,55],[5.5,-1.6,55],[8,-1.6,72],[10,-1.6,62],[11.8,-1.7,75],[13.5,-1.7,92],[14.5,-1.6,55],[16,-1.6,70],[-13.4,-1.9,94],[-12.5,-2,88],[-11,-1.9,82],[-9.5,-1.9,72],[-7.5,-2,72],[-6.5,-1.9,94],[-4.5,-1.9,55],[-2,-1.9,80],[0,-1.9,75],[2.2,-1.9,58],[3.7,-1.8,25],[4.1,-1.9,98],[5.2,-1.8,25],[6.3,-2,62],[7.9,-1.9,66],[9,-1.9,72],[10.8,-1.9,80],[12,-1.9,78],[13.4,-1.7,96],[14.4,-1.9,95],[16,-2,60],[-16.2,-2.1,94],[-15,-1.9,94],[-14.7,-1.95,94],[-10.5,-2.2,92],[-8.2,-2.2,82],[-6.5,-2.2,88],[-5,-2.1,85],[-3.5,-2.2,80],[-1.5,-2.2,85],[0,-2.1,92],[2.2,-2.2,88],[6.5,-2.2,70],[8,-2.2,68],[9.3,-2.1,85],[11,-2.2,88],[12,-2.2,88],[14.8,-2.2,58],[17,-2.2,70],[-16,-2.5,92],[-11,-2.5,90],[-9,-2.4,90],[-8.2,-2.4,96],[-7,-2.4,94],[-5.2,-2.4,92],[-4,-2.4,88],[-2.8,-2.5,85],[-.2,-2.4,90],[.9,-2.4,66],[2,-2.5,72],[3,-2.4,85],[5.5,-2.5,92],[6.7,-2.4,88],[7.8,-2.5,82],[9.7,-2.5,48],[11.2,-2.5,96],[12.3,-2.4,96],[15.2,-2.5,66],[16.4,-2.4,90],[-10.8,-2.6,85],[-10.3,-2.6,85],[-6.5,-2.6,62],[-5.5,-2.6,95],[-4.3,-2.6,92],[-3,-2.7,85],[-1.5,-2.8,72],[0,-2.7,80],[2.5,-2.7,92],[3.5,-2.7,92],[4.5,-2.8,92],[5.5,-2.7,96],[7,-2.7,90],[8.2,-2.8,92],[9,-2.8,50],[11.5,-2.9,96],[13,-2.6,68],[14,-2.6,92],[15,-2.7,66],[16.2,-2.8,92],[17.1,-2.8,85],[-2.4,-3,96],[.3,-2.9,85],[1,-3,85],[2.7,-3,88],[3.8,-3,92],[4.5,-3.1,82],[5.5,-3.1,70],[7,-3.1,96],[7.8,-2.9,92],[8.2,-3,90],[11.5,-3,80],[12.6,-3,72],[14,-3.2,70],[15,-3,85],[16.2,-2.9,95],[17.4,-2.9,92],[-5.8,-3.1,94],[-4.7,-3.2,92],[1.5,-3.2,96],[2.6,-3.2,72],[4.2,-3.3,90],[7.2,-3.4,94],[10,-3.2,95],[11,-3.4,78],[12,-3.4,85],[-6,-3.5,92],[-5.3,-3.6,96],[-1.2,-3.5,90],[-.9,-3.4,92],[-.4,-3.4,96],[1.6,-3.5,85],[2.2,-3.6,82],[4.2,-3.5,82],[5.1,-3.5,96],[6.6,-3.5,72],[7,-3.6,85],[9.5,-3.5,95],[10.7,-3.7,82],[11.8,-3.7,90],[14.5,-3.5,96],[14.8,-3.6,98],[-1,-3.6,92],[4.3,-3.8,80],[5.8,-3.9,94],[11.9,-3.8,92],[.1,-4,94],[4.5,-4.2,94],[9.4,-4.1,96],[-10.8,-2.6,88],[-13.5,-1.2,92],[-13,-1.4,85],[-11,-1.2,88],[-9,-1.2,85]];
const metLowerFill=[[-15.8,-1.5,85],[-15,-1.4,85],[-14,-1.2,82],[-13.2,-1.6,90],[-11.8,-1.7,88],[-11.3,-1.5,80],[-10,-1.4,75],[-9.3,-1.6,72],[-8,-1.6,70],[-7.5,-1.5,66],[-6.2,-1.3,58],[-5.5,-1.6,62],[-4.8,-1.5,60],[-3.3,-1.3,62],[-2.9,-1.9,68],[-.9,-1.3,48],[0,-1.4,55],[.6,-1.7,60],[2.8,-1.6,58],[4,-1.4,50],[4.6,-1.6,60],[6.2,-1.7,60],[7,-1.8,62],[8.7,-1.6,68],[9.8,-1.5,65],[10.5,-1.5,68],[11.4,-1.8,72],[12.7,-1.6,88],[13,-1.4,70],[15,-1.4,60],[15.5,-1.7,55],[17,-1.6,85],[-13.5,-2.2,92],[-12,-2.3,90],[-11.5,-2,88],[-10.8,-2.3,88],[-10,-2.1,85],[-9.3,-2.3,88],[-8.6,-1.9,85],[-7.7,-2.3,92],[-6.9,-2,88],[-6,-2,90],[-5.5,-2.3,88],[-4.3,-2.2,86],[-3.3,-1.9,78],[-2.8,-2.2,85],[-1.2,-2,78],[-.5,-2.3,85],[1,-2,75],[1.4,-2.3,82],[3,-2.2,78],[3.8,-2.1,60],[5,-2.2,65],[5.6,-2.1,72],[7.3,-2.3,78],[8.5,-2,78],[10,-2.2,80],[10.5,-2.4,85],[11.6,-2.3,92],[13,-2.2,85],[13.8,-2.1,90],[15.8,-2.3,90],[-8.8,-2.6,90],[-7.6,-2.5,90],[-6.2,-2.4,92],[-3.6,-2.5,92],[-2.3,-2.7,90],[1.2,-2.6,80],[3.9,-2.5,92],[5,-2.6,94],[6.2,-2.8,94],[7.5,-2.7,94],[8.7,-2.6,94],[12.2,-2.7,80],[14.6,-2.9,88],[-1.2,-2.3,86],[2.9,-3,90],[3.4,-3.2,86],[5,-3,88],[6.2,-3.2,80],[7.4,-2.9,96]];

const tempUpperRight=[[18.2,7.9,1110],[17.5,7.8,1130],[18.5,7.8,1115],[16.6,7.5,1150],[18.9,7.3,1130],[16.2,7.3,1160],[17.5,7.3,1135],[18.3,7.1,1130],[18.9,7.1,1125],[15.9,7.1,1180],[16.8,7,1160],[17.9,6.9,1140],[20,6.9,1120],[15.4,7,1190],[15.1,6.8,1190],[16.2,6.9,1160],[17.3,6.8,1150],[14.3,6.6,1210],[18.5,6.7,1135],[15.6,6.6,1180],[16.6,6.6,1160],[17.3,6.5,1140],[20.2,6.5,1150],[14.8,6.4,1200],[16.5,6.4,1170],[19.7,6.3,1130],[17.9,6.3,1190],[13.5,6.2,1220],[15.2,6.2,1190],[13.3,6,1240],[14.3,6.1,1210],[16.8,6,1200],[21.9,6,1120],[15.6,5.9,1200],[14.5,5.8,1220],[12.7,5.7,1270],[13.7,5.7,1250],[15.2,5.5,1220],[12.2,5.4,1270],[19.1,5.4,1150],[11.6,5.3,1280],[13.1,5.3,1260],[13.8,5.3,1240],[11,5.2,1290],[14.8,5.1,1200],[12.2,5,1280],[10.4,4.9,1310],[11.4,4.9,1290],[13.1,4.9,1270],[13.9,4.7,1250],[17.8,4.8,1210],[9.5,4.6,1310],[10.8,4.6,1300],[12.5,4.5,1290],[14.1,4.4,1240],[14.5,4.4,1230],[9.1,4.4,1320],[11.2,4.4,1300],[10.2,4.1,1310],[8.7,4.2,1320],[17.8,3.9,1240],[9.1,4,1320],[10.4,3.7,1320],[7.6,3.8,1370],[7.2,3.7,1380],[8.3,3.6,1340],[9.1,3.6,1330],[12.5,3.5,1330],[7.6,3.5,1360],[8.7,3.3,1340],[6.6,3.1,1370],[7.3,3.2,1350],[10.9,3.1,1360],[11.6,3,1350],[13.1,2.9,1340],[10.8,2.8,1370],[8.3,2.8,1340],[7.2,2.8,1360],[6.4,2.8,1380],[5.1,2.7,1390],[5.8,2.7,1380],[4.7,2.5,1390],[6.6,2.6,1370],[8.1,2.4,1390],[7.9,2.2,1395],[7,2.2,1395],[7.2,2.1,1395],[5.5,2.2,1390],[11.3,2.1,1380],[6.5,1.9,1380],[4.3,1.9,1390],[4.9,1.8,1400],[3.5,1.8,1400],[2.6,1.5,1410],[9,1.6,1390],[3.9,1.5,1400],[3.1,1.4,1400],[6.8,1.5,1400],[6,1.4,1410],[4.7,1.5,1400],[2.4,1.2,1410],[4.3,1.1,1400],[5.6,1,1470],[3.5,1.1,1400],[2.4,.9,1420],[7.7,.4,1490],[17,7.5,1140],[17.9,7.5,1130],[16.9,6.8,1155],[16.3,6.5,1170],[15.7,6.8,1170],[15,6.5,1190],[14.5,6.4,1210],[14,6.3,1210],[13.6,5.9,1230],[14,5.6,1240],[13,5.8,1250],[12.8,5.1,1280],[11.9,5.6,1270],[11,4.9,1290],[12,4.7,1290],[10.6,4.3,1310],[9.9,4.6,1310],[9.7,4.1,1320],[8.7,3.8,1340],[8.3,3.2,1350],[7.9,3.6,1350],[6.9,3.3,1370],[6.9,2.7,1375],[5.5,2.5,1385],[6.2,2.4,1385],[4.3,2.6,1390],[5,2.2,1390],[3.9,2.1,1395],[3.9,1.2,1400],[2.9,1.8,1405],[4.8,1.1,1400],[5.2,1.7,1390],[2.9,1,1415],[1.9,1.1,1420]];
const tempLowerRight=[[21.4,-2,1120],[17.2,-3.1,1130],[17.3,-3.4,1130],[17.7,-3.5,1130],[16.4,-3.6,1140],[17.1,-3.9,1130],[16,-3.8,1150],[14.3,-3.3,1170],[15.2,-3.6,1160],[13.5,-3,1180],[14.5,-3.9,1170],[13.3,-3.5,1190],[12,-2.6,1220],[11.6,-3.3,1200],[12.7,-2.9,1210],[12.5,-3.7,1200],[10.8,-2.3,1260],[9.9,-2.6,1280],[11.2,-3,1240],[10.4,-3.4,1260],[9.1,-1.9,1280],[9.7,-2,1270],[9.3,-2.3,1290],[9.1,-3.1,1300],[9.1,-3.5,1330],[9.7,-3.5,1290],[10.4,-4,1290],[9.1,-4.2,1300],[7.6,-3.6,1340],[8.3,-2.2,1360],[7.2,-2.1,1340],[6.8,-2.5,1340],[7.6,-2.9,1340],[6.4,-2.7,1380],[6.2,-3.1,1420],[7,-3,1340],[7.9,-4,1340],[7.6,-4.2,1360],[11.8,-4,1260],[11.2,-4.4,1280],[10.4,-4.6,1400],[10.7,-4.8,1310],[13.1,-4,1220],[12.7,-4.6,1270],[13.5,-4.9,1240],[13.1,-5.4,1290],[15.2,-5.2,1220],[15.6,-5.1,1220],[16.2,-4.8,1200],[18.3,-5.1,1180],[18.5,-4.7,1160],[17.3,-4.7,1170],[16.6,-4.6,1170],[14.8,-4.6,1220],[13.9,-4.4,1220],[19,-4.4,1150],[20.2,-4.5,1130],[19.7,-4.1,1120],[19.1,-4.2,1140],[15.6,-4.2,1170],[17.5,-4.2,1300],[16.6,-4.1,1150],[13.9,-3.7,1170],[15.2,-4.1,1170],[16.2,-4.4,1180],[4.7,-.8,1380],[5.3,-.5,1350],[6.4,-.7,1340],[7.2,-.9,1290],[5.8,-1,1370],[6.6,-1.1,1330],[7.6,-1,1290],[4.7,-1.3,1390],[5.6,-1.5,1390],[4.5,-1.7,1400],[6.6,-1.8,1380],[5.3,-1.9,1390],[7.6,-1.4,1310],[8.5,-1.7,1290],[4.3,-1.9,1390],[5.6,-2.1,1400],[6.2,-1.7,1400],[2.4,-2.2,1450],[3.5,-2.2,1480],[4.7,-2.4,1500],[1.2,-2.3,1470],[3.5,-2.6,1400],[4.1,-2.8,1390],[-.1,-2.6,1480],[.8,-2.7,1560],[1.4,-2.7,1540],[2.2,-2.7,1520],[1.6,-2.9,1450],[4.5,-2.9,1470],[3.2,-3.1,1480],[-1.1,-3,1530],[1,-3.3,1500],[1.2,-3.4,1490],[2.2,-3.6,1400],[4.2,-3.6,1370],[-1.2,-3.8,1490],[4.6,-3.8,1530],[.7,-4.1,1510],[2.1,-4.1,1570],[5.1,-4.4,1530],[3.9,-4.6,1420],[2.4,-4.6,1590],[1.6,-4.9,1600],[-4.5,-4.6,1820],[-3.6,-5.2,1780],[-2.8,-3.4,1800],[-6.1,-3.6,1640],[-2.2,-2.6,1680],[-1.1,-2.5,1690],[-1.3,-2.7,1690],[4.3,-.4,1360],[4.8,-.3,1340],[5.8,-.6,1320],[6.6,-.5,1310],[5.2,-1,1340],[6,-1.4,1370],[7,-1.4,1320],[5,-1.9,1400],[7,-2,1320],[7.9,-1.9,1320],[8.6,-2.4,1310],[8.3,-2.8,1320],[9.8,-2.2,1280],[9.8,-3.1,1290],[10.5,-2.9,1270],[10.7,-2,1270],[11.4,-2.5,1240],[11,-3.6,1270],[12.1,-3.2,1230],[12.2,-4.4,1230],[13,-3.4,1200],[13.4,-3.9,1210],[13.5,-4.4,1220],[14.2,-2.9,1180],[14.9,-3.2,1170],[15.2,-3.9,1160],[14.9,-4.2,1170],[14.7,-5.1,1220],[15.6,-4.6,1170],[15.8,-3.3,1160],[16.6,-3.9,1140],[17.2,-4.5,1150],[16.7,-5,1190],[17.9,-4.5,1160],[18.4,-4.3,1150],[16.9,-3.5,1130],[8.6,-3.3,1290],[8.4,-3.7,1300],[10.1,-3.8,1290],[7.4,-3.2,1340],[5.8,-2.5,1400],[5.2,-2.8,1390]];
const tempCenter=[[.1,1.5,1500],[.8,1.5,1480],[-.8,1.7,1560],[-1.8,2,1590],[-2.6,2,1600],[-3.2,1.9,1600],[-2,1.8,1580],[-2.8,1.5,1590],[-1.5,1.4,1570],[-3.6,1.6,1610],[-4.3,1.9,1620],[-4.9,2,1630],[-4.1,1.3,1650],[-2.6,1.2,1590],[-.3,1.1,1520],[1.2,1.2,1470],[1.4,.8,1470],[-.1,.8,1510],[-1.3,1,1550],[-3.2,.8,1600],[-4.1,.8,1680],[2.4,.6,1460],[1,.6,1470],[-.3,.6,1490],[-1.5,.6,1540],[-2.8,.6,1620],[3.5,.6,1460],[4.1,.4,1330],[3.1,.2,1370],[4.5,.1,1320],[1.8,.3,1470],[.5,.2,1480],[-1.1,.3,1540],[-2.4,.3,1560],[-3.8,.2,1640],[2.4,0,1450],[1.4,-.1,1480],[-.1,-.1,1460],[-1.5,-.1,1530],[-2.8,-.1,1560],[3.9,-.2,1340],[3.1,-.4,1410],[2,-.4,1600],[-1.1,-.4,1540],[.1,-.5,1500],[-3.8,-.6,1600],[-2.6,-.5,1580],[-1.3,-.6,1510],[1,-.6,1480],[2.4,-.8,1400],[3.5,-.6,1370],[-2.6,-.9,1560],[-1.3,-.9,1550],[-.3,-.8,1530],[1,-.9,1450],[2,-1.1,1590],[-3.8,-1,1680],[-4.7,-1.1,1640],[-3.2,-1.2,1600],[-2,-1.3,1570],[-.5,-1.4,1620],[.5,-1.1,1630],[1.8,-1.3,1430],[3.7,-1.3,1450],[2.8,-1.4,1480],[-2.8,-1.7,1640],[-2,-1.7,1640],[-.9,-1.8,1600],[.1,-1.6,1600],[-.7,-2.1,1590],[.5,1,1480],[1,.4,1470],[.2,.3,1490],[-.6,.4,1520],[-1.8,.9,1570],[-2.2,1,1580],[-3.5,1.2,1620],[-3.2,.3,1620],[-3.6,-.2,1640],[-1.9,-.5,1540],[-.8,-.2,1510],[.6,-.3,1480],[1.9,-.8,1480],[1.6,.7,1460],[3,.7,1440],[2.7,.2,1450],[2.9,-.1,1420],[-.6,-1.2,1540],[-1.6,-1.4,1560],[-2.6,-1.4,1620],[-.2,-.6,1510],[.2,-1.3,1580],[1.2,-1.3,1460],[-3.4,-1.6,1680],[-.4,.9,1530]];
const tempUpperLeft=[[-15.8,5.8,1960],[-16.5,5.6,1970],[-16,5.4,1960],[-16.5,5.3,1970],[-14.6,5.2,1890],[-13.8,5.1,1880],[-14.7,5,1880],[-16.3,5,1960],[-16.2,4.6,1950],[-12,4.7,1810],[-13.1,4.6,1870],[-15.1,4.5,1900],[-14.4,4.4,1930],[-16.2,4.4,1960],[-11.6,4.3,1830],[-10.9,4.3,1830],[-12.6,4.4,1860],[-16.5,4,1950],[-15.1,4,1920],[-13.8,4.1,1880],[-12.8,4.1,1850],[-11.6,4,1820],[-10,3.9,1760],[-10.5,3.8,1780],[-8,3.8,1710],[-9.1,3.7,1730],[-14.4,3.8,1900],[-12.8,3.7,1840],[-15.7,3.5,1930],[-14.9,3.4,1940],[-11.6,3.4,1840],[-10.7,3.4,1800],[-7.8,3.4,1700],[-13.5,3.3,1860],[-12.8,3.2,1850],[-9.9,3.2,1780],[-7.2,3.2,1680],[-9.1,3.1,1730],[-5.9,3,1610],[-11.6,3,1790],[-8.2,2.9,1700],[-13.5,3,1870],[-7.2,2.9,1700],[-15.5,2.8,1930],[-15.9,2.7,1970],[-13,2.8,1890],[-10.5,2.8,1780],[-11.8,2.7,1780],[-9.1,2.7,1740],[-7.4,2.6,1700],[-4.7,2.5,1610],[-4.3,2.5,1600],[-6.1,2.4,1640],[-16.4,2.4,1950],[-14.7,2.5,1920],[-12.8,2.4,1850],[-8.7,2.5,1790],[-9.9,2.5,1780],[-16.4,2.2,1950],[-14.8,2.3,1920],[-11.2,2.2,1810],[-4.3,2.2,1610],[-13.9,2.1,1900],[-13.2,2.1,1870],[-8.7,2.1,1720],[-7.2,2.1,1710],[-16.8,1.9,1970],[-5.1,2,1620],[-10.3,1.9,1850],[-14.8,1.8,1930],[-14.1,1.7,1950],[-13.2,1.6,1900],[-12,1.6,1860],[-10.7,1.6,1780],[-8.7,1.7,1730],[-7.2,1.8,1720],[-7.8,1.5,1690],[-5.9,1.6,1660],[-5.1,1.6,1630],[-12.1,1.5,1860],[-9.9,1.3,1760],[-16.3,1.2,1950],[-15,1.1,1940],[-12.9,1.2,1890],[-11.8,1.2,1900],[-15.6,.9,1960],[-10.1,1.1,1950],[-6.6,1.4,1680],[-5.3,1.1,1690],[-6.8,1,1660],[-5.9,.9,1700],[-8.5,.8,1700],[-9.5,1,1740],[-12,.8,1850],[-13.9,.8,1910],[-14,.7,1930],[-10.4,.6,1770],[-9.4,.5,1750],[-7.4,.7,1700],[-5.9,.5,1720],[-12.2,.5,1860],[-13.1,.3,1930],[-8.3,.3,1830],[-11.8,.3,1880],[-5.9,.3,1830],[-10.4,.1,1970],[-11.2,0,1770],[-8.6,0,1790],[-3.8,.2,1600],[-7.4,-.1,1780],[-13.1,-.2,1900],[-12.3,-.2,1880],[-5.9,-.2,1620],[-3.8,-.2,1750],[-12.2,-.5,1870],[-10.6,-.3,1820],[-9.5,-.3,1780],[-8.1,-.4,1790],[-5,-.5,1700],[-8,-.5,1790],[-7.2,-.5,1860],[-10.8,-.7,1910],[-11.8,-.7,1950],[-8.2,-.8,1780],[-6.4,-.7,1950],[-16,-1.1,1950],[-15.5,5,1940],[-15.2,4.9,1930],[-15.7,4.3,1950],[-14,4.7,1900],[-13.5,4.3,1880],[-12.5,4.7,1850],[-13.2,4,1870],[-12.1,3.9,1850],[-11,3.7,1830],[-10.8,3.9,1810],[-9.5,3.5,1760],[-8.7,3.4,1720],[-8.3,3.5,1700],[-14.2,3.3,1900],[-12.2,3.5,1840],[-11.3,3.1,1800],[-10.3,3,1780],[-9.8,2.8,1760],[-8.7,3,1720],[-7.8,2.9,1700],[-6.7,2.6,1680],[-12.4,2.8,1830],[-11.2,2.7,1810],[-8.2,2.4,1750],[-7.6,2.3,1710],[-12.2,2.1,1840],[-10.6,2.3,1800],[-9.6,2.1,1770],[-6.4,2,1680],[-5.7,2.2,1640],[-11.5,1.8,1820],[-9.5,1.7,1760],[-6.3,1.8,1680],[-4.4,1.6,1640],[-11,1.3,1800],[-8.8,1.3,1740],[-8,1,1720],[-7.4,1.2,1700],[-6.3,.9,1700],[-4.6,1.3,1650],[-4.9,.8,1680],[-11.2,.8,1810],[-10.7,1,1790],[-13,.8,1880],[-9,.8,1740],[-7,.4,1720],[-5.1,.4,1680],[-4.5,.1,1660],[-11.3,.4,1800],[-9.8,.3,1760],[-7.8,.3,1760],[-6.5,.1,1720],[-5.1,-.1,1670],[-6.8,-.4,1700],[-9,-.3,1790],[-4.2,-.6,1640],[-6,-.8,1700],[-7,-.9,1720]];
const tempLowerLeft=[[-13,-1.5,1970],[-10.9,-1.3,1800],[-8.5,-1.4,1700],[-9.2,-1.5,1720],[-6.6,-1.2,1700],[-10,-1.7,1790],[-10.4,-1.8,1790],[-8.5,-1.9,1720],[-7.1,-1.8,1690],[-5.9,-1.5,1680],[-3.8,-1.7,1820],[-4.7,-1.9,1670],[-5.9,-1.9,1680],[-13.9,-2.2,1940],[-12.1,-2.2,1860],[-11,-2.1,1850],[-7.1,-2.3,1930],[-8.7,-2.3,1730],[-4.1,-2.3,1680],[-15.4,-2.4,1950],[-14.7,-2.6,1930],[-11.6,-2.4,1850],[-10.1,-2.4,1800],[-7.8,-2.5,1720],[-6.4,-2.4,1680],[-5.1,-2.6,1780],[-15.5,-2.9,1950],[-13.9,-2.7,1920],[-12.6,-2.9,1890],[-11.4,-2.7,1830],[-9.3,-2.9,1800],[-8,-2.8,1770],[-5.3,-2.9,1790],[-4,-3,1790],[-14.8,-3.1,1950],[-13.9,-3,1930],[-13,-3.1,1900],[-11.6,-3,1860],[-10.3,-3,1830],[-7.1,-3.1,1850],[-6.2,-3.2,1790],[-14.7,-3.3,1950],[-13.9,-3.3,1950],[-12,-3.3,1890],[-9.4,-3.3,1810],[-8.2,-3.2,1800],[-13.7,-3.5,1950],[-12.8,-3.6,1920],[-10.7,-3.4,1860],[-7,-3.5,1810],[-8.2,-3.6,1840],[-12.2,-3.8,1930],[-11.2,-3.8,1900],[-9.4,-3.9,1860],[-7.9,-3.8,1880],[-11.6,-3.9,1930],[-12.1,-4.1,1950],[-10.2,-4.3,1960],[-15,-2.7,1950],[-14.2,-2.9,1940],[-12.5,-2.5,1870],[-10.8,-2.9,1850],[-9.8,-2.2,1790],[-9,-2.7,1780],[-11.5,-3.5,1900],[-10,-3.6,1860],[-13,-3.8,1950],[-7.5,-2.1,1700],[-6.3,-2,1690],[-5,-1.3,1680],[-7.5,-1.3,1700],[-4.1,-1.4,1660],[-5.5,-2.3,1690],[-6.6,-1.7,1690],[-7.8,-1.7,1710],[-9,-1.9,1740],[-4.3,-2.7,1700],[-3.3,-2.1,1690],[-3.2,-2.6,1680],[-6.7,-2.8,1720],[-7.2,-2.6,1730],[-8.8,-2.5,1780],[-9.8,-2.7,1800],[-10.8,-2.4,1830],[-12.9,-2.6,1900],[-13.2,-2.4,1900],[-14.4,-2.4,1940],[-15.1,-3.3,1950],[-14.3,-3.5,1950],[-13.2,-3.4,1950],[-12.5,-3.3,1910],[-11,-3.3,1880],[-10.2,-3.3,1850],[-8.8,-3.1,1810],[-6.6,-3,1780],[-12.9,-4,1950],[-12.3,-3.5,1930],[-11.1,-4.1,1940],[-10.8,-3.7,1910],[-9.9,-4,1880],[-9.2,-3.6,1850],[-8.5,-3.9,1870],[-11.5,-2.2,1840],[-12.7,-2.2,1870],[-14.6,-2.9,1950],[-13.4,-2.9,1920],[-12.2,-2.7,1880]];

const series1=coLeftFill.concat(coRightFill,coLeftOutliers,coLeftBand,coRightBand);
const series2=metUpper.concat(metUpperFill,metMiddle,metMiddleFill,metLower,metLowerFill);
const series3=tempUpperRight.concat(tempLowerRight,tempCenter,tempUpperLeft,tempLowerLeft);
const seriesData=[series1,series2,series3];

const FONT='DejaVu Sans';
const plotRects=[
 {left:1419,top:122,width:817,height:972.5},
 {left:201,top:1357.6,width:836,height:971.8},
 {left:1443,top:1359,width:784,height:972.7}];
const barRects=[
 {left:2287,top:122,width:48,height:972.5},
 {left:1089,top:1357.6,width:48,height:971.8},
 {left:2275,top:1359,width:49,height:972.7}];
const titleX=[1821,612.5,1830];
const titleY=[82,1318,1320];
const xLabelMargins=[27,27,27];
const nameGapsX=[85,85,85];
const nameGapsY=[135,105,104];
const minusText=v=>String(v).replace('-','\u2212');
const stops=paletteColors.map((c,i)=>({offset:i/(paletteColors.length-1),color:c}));

const grid=[],xAxis=[],yAxis=[],series=[],visualMap=[],title=[];
const axisStyle={axisLine:{show:false,onZero:false},splitLine:{show:false},
  axisTick:{show:true,length:12,lineStyle:{color:'#000',width:2.3}}};
for(let i=0;i<3;i++){
  grid.push({...plotRects[i],show:true,backgroundColor:'#fff',borderColor:'#000',borderWidth:2.3,containLabel:false,outerBoundsMode:'none'});
  xAxis.push({gridIndex:i,type:'value',min:xRanges[i][0],max:xRanges[i][1],...axisStyle,
    axisTick:{...axisStyle.axisTick,customValues:xTicks[i]},
    axisLabel:{customValues:xTicks[i],fontFamily:FONT,fontSize:46,color:'#000',margin:xLabelMargins[i],formatter:minusText},
    name:xNames[i],nameLocation:'middle',nameGap:nameGapsX[i],nameTextStyle:{fontFamily:FONT,fontSize:45.5,color:'#000'}});
  yAxis.push({gridIndex:i,type:'value',min:yRanges[i][0],max:yRanges[i][1],...axisStyle,
    axisTick:{...axisStyle.axisTick,customValues:yTicks[i]},
    axisLabel:{customValues:yTicks[i],fontFamily:FONT,fontSize:46,color:'#000',margin:22,padding:[5,0,0,0],formatter:minusText},
    name:yNames[i],nameLocation:'middle',nameGap:nameGapsY[i],nameRotate:90,nameTextStyle:{fontFamily:FONT,fontSize:45.5,color:'#000'}});
  series.push({type:'scatter',xAxisIndex:i,yAxisIndex:i,data:seriesData[i],symbolSize:25,silent:true,animation:false,large:false,itemStyle:{opacity:.88},progressive:0});
  visualMap.push({show:false,type:'continuous',seriesIndex:i,dimension:2,min:barRanges[i][0],max:barRanges[i][1],inRange:{color:paletteColors}});
  title.push({text:titles[i],left:titleX[i],top:titleY[i],textAlign:'center',textVerticalAlign:'middle',textStyle:{fontFamily:FONT,fontSize:54.6,fontWeight:'normal',color:'#000'}});
}
for(let i=0;i<3;i++){
  const g=3+i;
  grid.push({...barRects[i],show:true,borderColor:'#000',borderWidth:2.3,outerBoundsMode:'none',backgroundColor:{type:'linear',x:0,y:1,x2:0,y2:0,colorStops:stops}});
  xAxis.push({gridIndex:g,type:'value',min:0,max:1,show:false});
  yAxis.push({gridIndex:g,type:'value',position:'right',min:barRanges[i][0],max:barRanges[i][1],...axisStyle,
    axisTick:{...axisStyle.axisTick,customValues:barTicks[i]},
    axisLabel:{customValues:barTicks[i],fontFamily:FONT,fontSize:46,color:'#000',margin:24,padding:[5,0,0,0],formatter:v=>Number(v).toFixed(barDigits[i])}});
}
const graphic=[];
paragraphLines.forEach((line,li)=>{line.forEach(w=>{
  graphic.push({type:'text',x:w[1]+3,y:paragraphTops[li],silent:true,style:{text:w[0],fill:'#000',fontFamily:'Liberation Sans',fontSize:98.5,textAlign:'right'}});
});});
const chart=echarts.init(document.getElementById('c'),null,{renderer:'canvas'});
chart.setOption({animation:false,backgroundColor:'#fff',title,grid,xAxis,yAxis,series,visualMap,graphic});
</script></body></html>
